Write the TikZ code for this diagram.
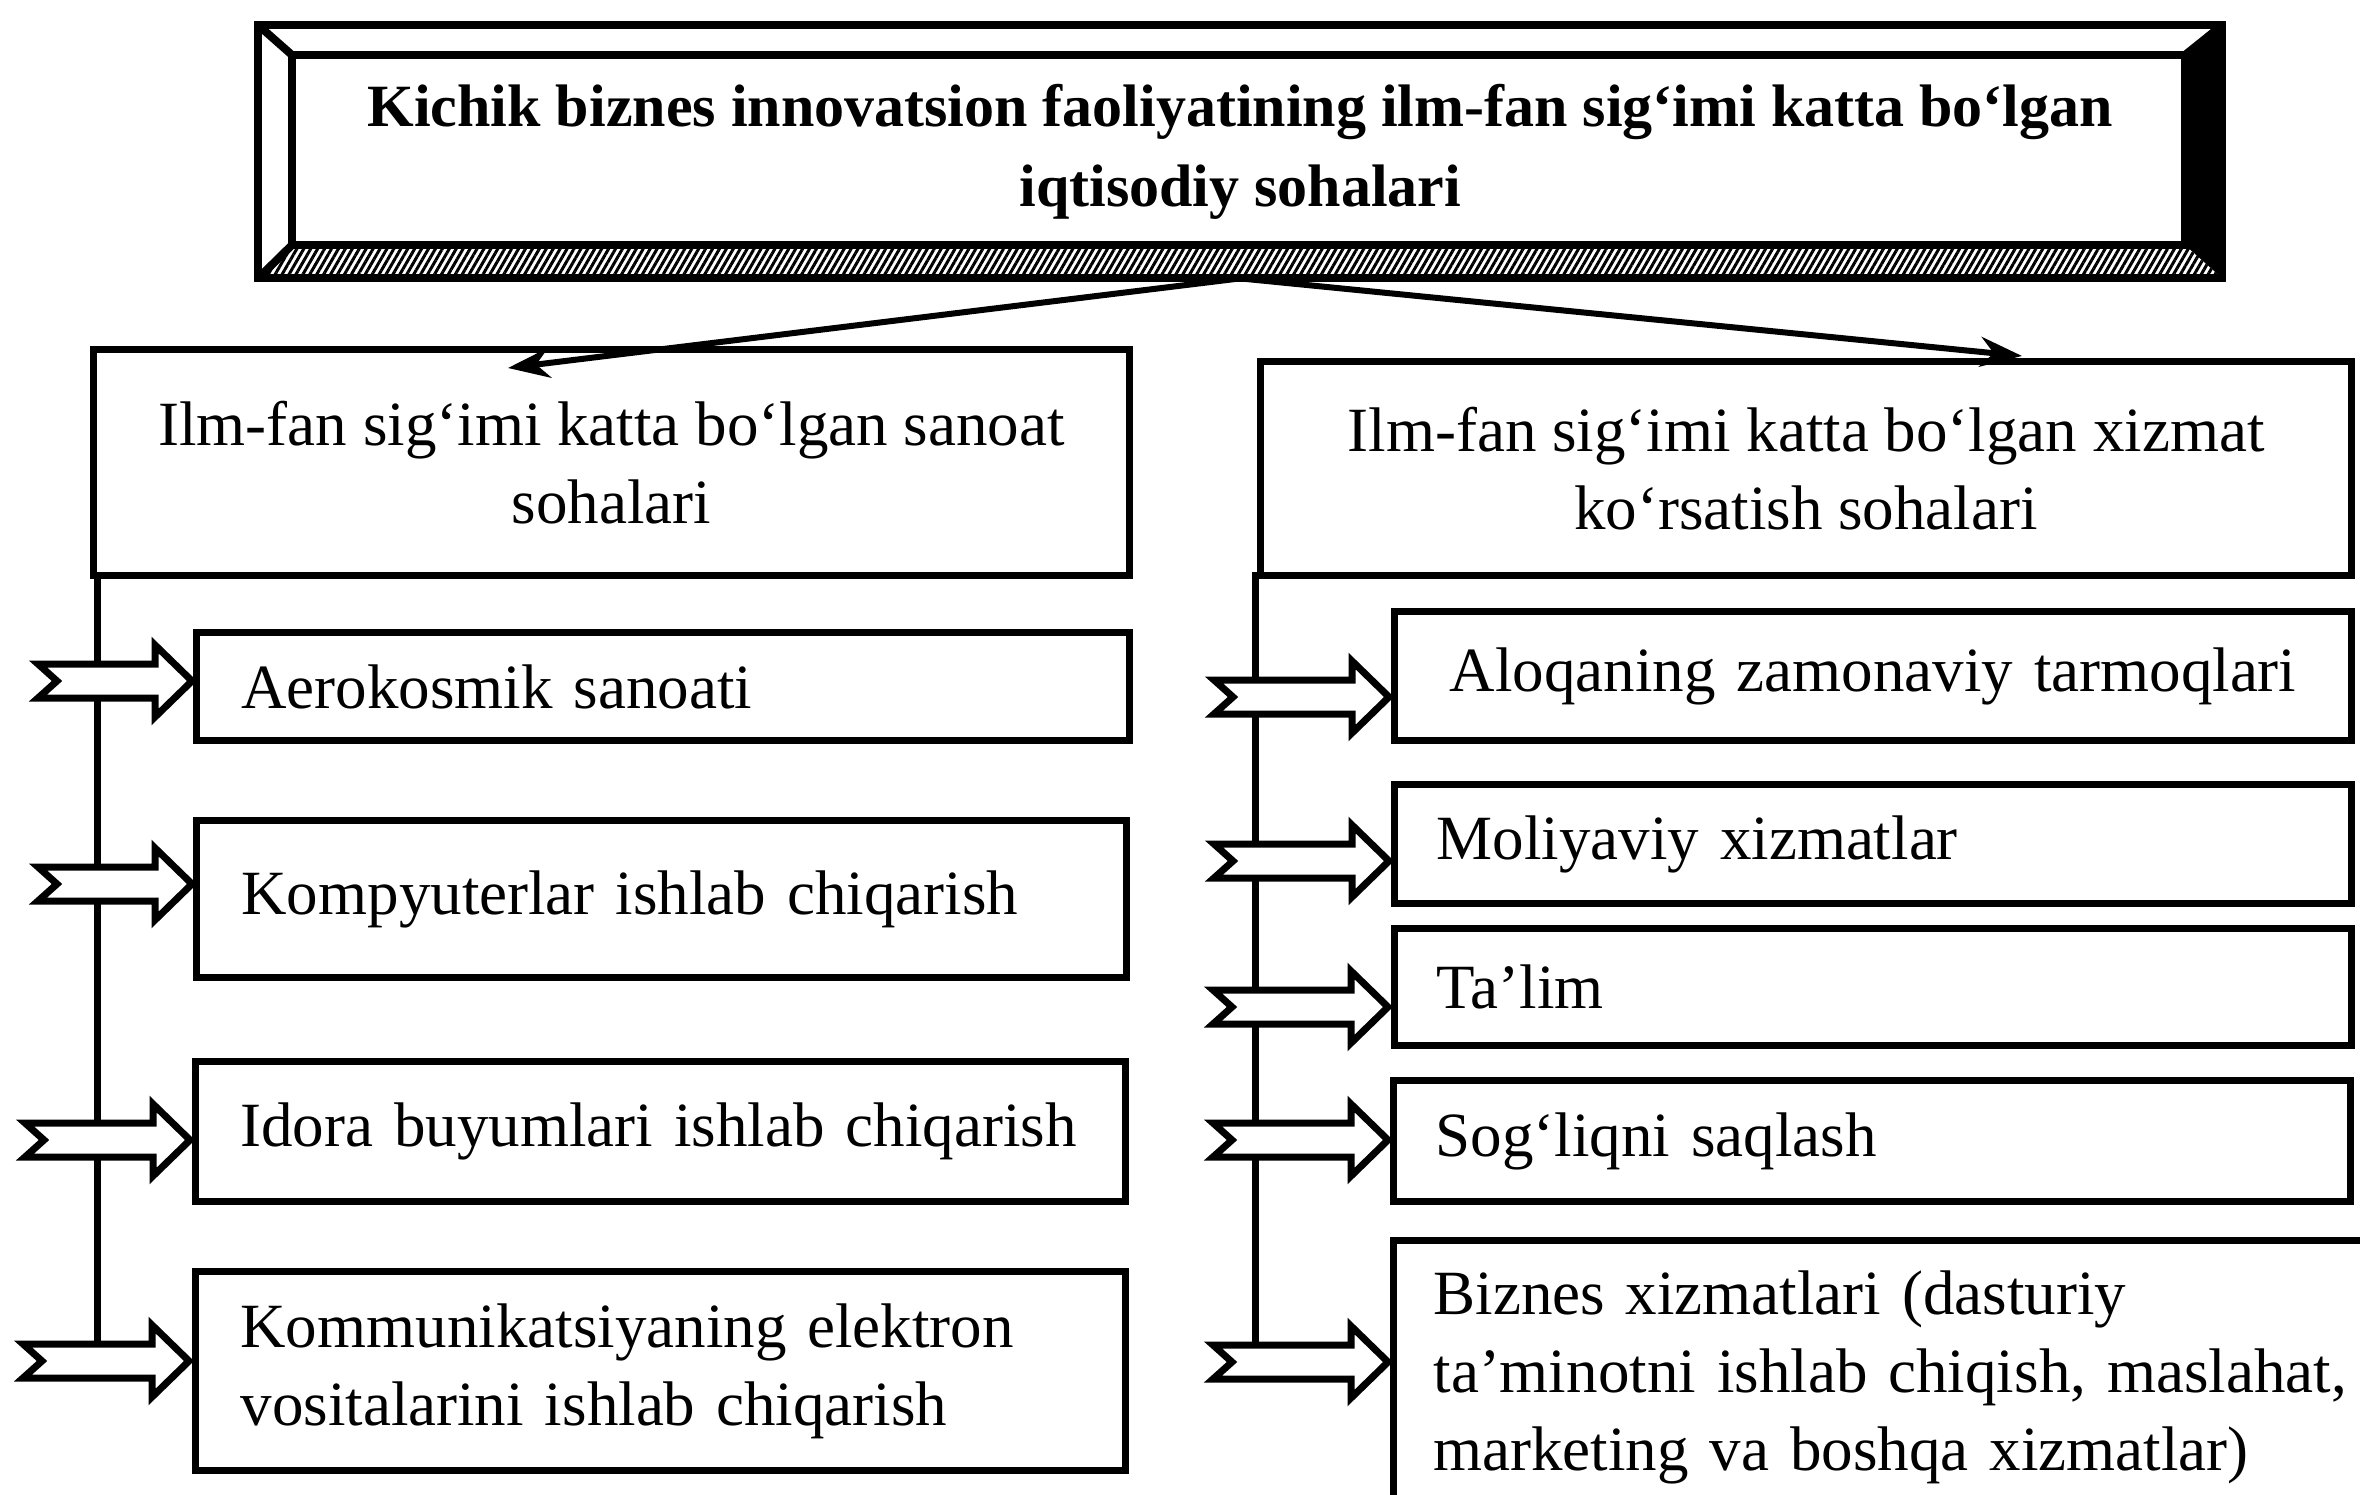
\documentclass[tikz,border=0pt]{standalone}
\usepackage{fontspec}
\setmainfont{Liberation Serif}
\usetikzlibrary{arrows.meta,patterns.meta}
\newcommand\blockarr[3]{% tail x, tip x, center y
  \draw[barrow] (#1,#3-17) -- (#1+19,#3) -- (#1,#3+17) -- (#2-37,#3+17) -- (#2-37,#3+36) -- (#2,#3) -- (#2-37,#3-36) -- (#2-37,#3-17) -- cycle;}
\begin{document}
\begin{tikzpicture}[x=1pt,y=-1pt,
  txt/.style={font=\fontsize{63}{78}\selectfont},
  box/.style={draw, line width=7pt, inner ysep=0pt, anchor=north west, txt},
  lbox/.style={box, inner xsep=45pt, align=left},
  rbox/.style={box, inner xsep=42pt, align=left},
  hdr/.style={box, inner sep=0pt, align=center},
  conn/.style={line width=6pt, -{Stealth[length=42pt,width=30pt]}},
  trunk/.style={line width=7pt},
  barrow/.style={line width=7pt, fill=white, line join=miter},
  frame/.style={line width=8pt, line join=miter}]
\clip (0,0) rectangle (2360,1495);
\fill[white] (0,0) rectangle (2360,1495);

% title frame
\node[minimum width=1964pt, minimum height=253pt, anchor=north west, inner sep=0pt, align=center,
      font=\fontsize{60}{80}\selectfont\bfseries] (title) at (258,25)
  {Kichik biznes innovatsion faoliyatining ilm-fan sig‘imi katta bo‘lgan\\iqtisodiy sohalari};
\fill[pattern={Lines[angle=60,distance=6pt,line width=3pt]}] (292,245) -- (2185,245) -- (2222,278) -- (258,278) -- cycle;
\fill (2185,55) -- (2222,25) -- (2222,278) -- (2185,245) -- cycle;
\draw[frame] (title.north west) rectangle (title.south east);
\draw[frame] (292,55) rectangle (2185,245);
\draw[frame] (title.north west) -- (292,55);
\draw[frame] (title.south west) -- (292,245);
\draw[frame] (title.north east) -- (2185,55);

% headers
\node[hdr, minimum width=1036pt, minimum height=226pt] (hl) at (90,346)
  {Ilm-fan sig‘imi katta bo‘lgan sanoat\\sohalari};
\node[hdr, minimum width=1091pt, minimum height=214pt] (hr) at (1257,358)
  {Ilm-fan sig‘imi katta bo‘lgan xizmat\\ko‘rsatish sohalari};

\coordinate (tl) at (508,368);
\coordinate (tr) at (2022,356);
\draw[conn] (title.south) -- (tl);
\draw[conn] (title.south) -- (tr);

% trunks
\coordinate (l4) at (97,1361);
\coordinate (r5) at (1255,1362);
\draw[trunk] (97,572) -- (l4);
\draw[trunk] (1255,572) -- (r5);

% left boxes
\node[lbox, text width=843pt, minimum height=108pt] (a1) at (193,629) {Aerokosmik sanoati};
\node[lbox, text width=840pt, minimum height=157pt] (a2) at (193,817) {Kompyuterlar ishlab chiqarish};
\node[lbox, text width=840pt, minimum height=140pt] (a3) at (192,1058) {Idora buyumlari ishlab chiqarish};
\node[lbox, text width=840pt, minimum height=199pt] (a4) at (192,1268) {Kommunikatsiyaning elektron\\vositalarini ishlab chiqarish};

% right boxes
\node[box, inner xsep=20pt, text width=917pt, align=center, minimum height=129pt] (b1) at (1391,608) {Aloqaning zamonaviy tarmoqlari};
\node[rbox, text width=873pt, minimum height=119pt] (b2) at (1391,781) {Moliyaviy xizmatlar};
\node[rbox, text width=873pt, minimum height=117pt] (b3) at (1391,925) {Ta’lim};
\node[rbox, text width=873pt, minimum height=121pt] (b4) at (1390,1077) {Sog‘liqni saqlash};
\node[rbox, inner xsep=40pt, text width=960pt, minimum height=274pt] (b5) at (1390,1237)
  {Biznes xizmatlari (dasturiy\\ta’minotni ishlab chiqish, maslahat,\\marketing va boshqa xizmatlar)};

% block arrows
\blockarr{38}{192}{681}
\blockarr{38}{192}{884}
\blockarr{25}{190}{1140}
\blockarr{23}{189}{1361}
\blockarr{1214}{1389}{697}
\blockarr{1214}{1389}{861}
\blockarr{1213}{1388}{1007}
\blockarr{1213}{1388}{1140}
\blockarr{1213}{1388}{1362}
\end{tikzpicture}
\end{document}
